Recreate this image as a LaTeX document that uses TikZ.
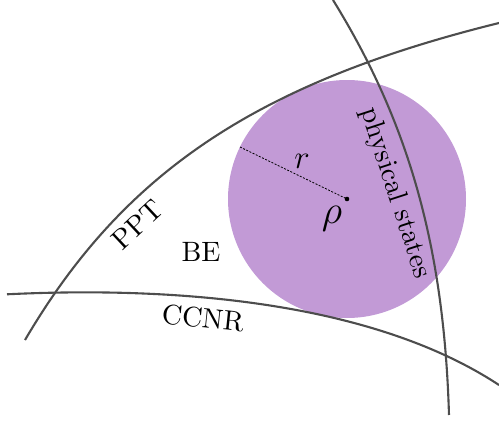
\documentclass[tikz,border=0pt]{standalone}
\usepackage{fix-cm}
\usepackage{fontspec}
\setmainfont{lmroman10-regular.otf}
\definecolor{statepurple}{RGB}{194,154,214}
\definecolor{curvegray}{RGB}{77,77,77}
\begin{document}
\begin{tikzpicture}[x=1pt,y=-1pt,
  curve/.style={curvegray, line width=2.1pt},
  lbl/.style={font=\fontsize{28}{33}\selectfont, inner sep=0pt},
  mlbl/.style={inner sep=0pt}]
\useasboundingbox (0,0) rectangle (499,423);
% state ball
\coordinate (ctr) at (347,199);
\coordinate (edge) at (240,147);
\fill[statepurple] (ctr) circle[radius=119pt];
\draw[dash pattern=on 2pt off 1.5pt, line width=0.8pt] (edge) -- (ctr);
\fill (ctr) circle[radius=2.3pt];
% curves
\coordinate (pptA) at (25,340);
\coordinate (pptB) at (499,23);
\coordinate (phA) at (333,0);
\coordinate (phB) at (449,415);
\coordinate (ccA) at (7,294.3);
\coordinate (ccB) at (499,385);
\draw[curve] (pptA) .. controls (123,173) and (256,83) .. (pptB);
\draw[curve] (phA) .. controls (409,123) and (444,247) .. (phB);
\draw[curve] (ccA) .. controls (177,286) and (373,302) .. (ccB);
% labels
\node[lbl, rotate=-72] (phys) at (395,193) {physical states};
\node[lbl, rotate=43] (ppt) at (137,225) {PPT};
\node[lbl] (be) at (201,252) {BE};
\node[lbl, rotate=-6] (ccnr) at (203,318) {CCNR};
\node[mlbl, font=\fontsize{33}{38}\selectfont] (rlbl) at (302,161) {$r$};
\node[mlbl, font=\fontsize{40}{46}\selectfont] (rholbl) at (332,219) {$\rho$};
\end{tikzpicture}
\end{document}
